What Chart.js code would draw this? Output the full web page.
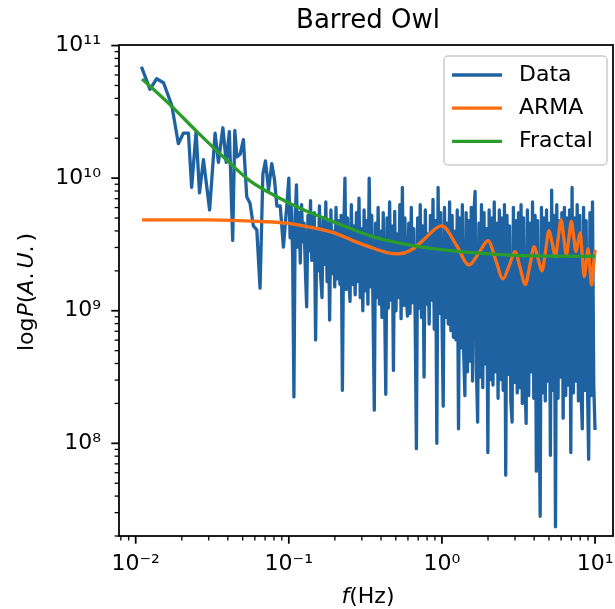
<!DOCTYPE html>
<html>
<head>
<meta charset="utf-8">
<script src="https://cdn.jsdelivr.net/npm/chart.js@4.4.0/dist/chart.umd.min.js"></script>
<style>
  html, body { margin: 0; padding: 0; background: #fff; overflow: hidden; }
  canvas { display: block; }
</style>
</head>
<body>
<canvas id="owlChart" width="615" height="609"></canvas>
<script>
// ------------------ Data ------------------
const seriesNames = ["Data", "ARMA", "Fractal"];
const seriesColors = ["#1f62a2", "#ff6d12", "#2a9c2a"];

// low frequency part of the spectrum: Hz, and log10 of the power
const dataFreqLow = [0.0109, 0.0124, 0.0137, 0.0152, 0.0172, 0.0190, 0.0205, 0.0221, 0.0232, 0.0248,
  0.0261, 0.0277, 0.0304, 0.0330, 0.0347, 0.0371, 0.0390, 0.0409, 0.0430, 0.0444,
  0.0458, 0.0481, 0.0505, 0.0531, 0.0558, 0.0587, 0.0618, 0.0649, 0.0677, 0.0704,
  0.0737, 0.0774, 0.0806, 0.0836, 0.0879, 0.0922, 0.0970];
const dataLogPowerLow = [10.84, 10.67, 10.75, 10.72, 10.55, 10.26, 10.34, 10.34, 9.93, 10.35,
  9.89, 10.14, 9.76, 10.34, 10.12, 10.38, 10.12, 10.35, 9.53, 10.36,
  10.16, 10.18, 10.29, 9.86, 9.81, 9.64, 9.61, 9.17, 10.03, 10.13,
  9.91, 10.11, 9.99, 9.79, 9.79, 9.48, 9.79];

// dense part, 0.1 Hz to 10 Hz, points evenly spread on the log axis
const denseFreqRange = [0.1, 10];
const dataLogPowerDense = [
  10.0, 9.55, 9.78, 9.42, 8.35, 9.70, 9.95, 9.48, 9.74, 9.36, 9.80, 9.52, 9.66, 9.30, 9.03, 9.72, 9.45, 9.83, 9.38, 9.60,
  9.74, 8.78, 9.62, 9.30, 9.79, 9.25, 9.10, 9.70, 9.35, 9.82, 9.22, 9.66, 8.93, 9.76, 9.28, 9.60, 9.18, 9.78, 9.24, 9.68,
  9.20, 9.72, 8.40, 9.58, 10.0, 9.16, 9.70, 9.25, 9.07, 9.80, 9.20, 9.64, 9.12, 9.74, 9.22, 9.85, 9.10, 9.62, 9.00, 9.76,
  9.15, 9.68, 9.05, 10.0, 9.18, 9.72, 9.02, 8.25, 9.66, 9.10, 9.78, 9.05, 9.60, 8.95, 9.74, 9.12, 8.37, 9.70, 9.02, 9.82,
  9.08, 9.64, 8.55, 9.75, 9.00, 9.58, 9.10, 9.80, 8.94, 9.93, 9.04, 9.70, 9.12, 8.96, 9.66, 8.98, 9.78, 9.06, 9.62, 8.95,
  7.96, 9.70, 9.02, 9.80, 8.95, 9.64, 8.50, 9.76, 9.05, 9.58, 8.90, 9.72, 9.08, 9.84, 8.86, 9.68, 8.00, 9.93, 8.98, 9.74,
  9.00, 8.28, 9.78, 8.95, 9.66, 8.90, 9.82, 8.85, 9.72, 8.80, 9.60, 8.78, 9.76, 8.11, 9.70, 8.72, 9.80, 8.70, 8.36, 9.74,
  8.54, 9.68, 8.62, 9.78, 8.47, 9.72, 9.90, 8.57, 8.16, 9.66, 8.50, 9.80, 8.42, 9.74, 8.60, 9.62, 7.93, 9.76, 8.48, 9.70,
  8.44, 9.82, 8.54, 9.66, 8.34, 9.76, 8.48, 9.70, 8.40, 9.80, 7.76, 9.72, 8.52, 9.64, 8.32, 8.16, 9.78, 8.46, 9.68, 8.38,
  9.74, 8.42, 9.80, 8.30, 9.70, 8.50, 8.15, 9.76, 8.36, 9.66, 8.54, 9.82, 8.34, 9.72, 7.79, 9.68, 8.44, 7.45, 9.78, 8.38,
  9.70, 8.32, 9.76, 8.47, 9.66, 7.91, 9.91, 8.40, 9.72, 7.37, 9.80, 8.34, 9.68, 8.50, 9.74, 8.19, 9.78, 8.36, 9.70, 8.44,
  9.76, 7.93, 9.93, 8.38, 9.70, 8.47, 9.80, 8.32, 9.72, 8.42, 8.11, 9.78, 8.40, 9.68, 8.48, 7.88, 9.74, 8.36, 9.82, 8.44, 8.10
];

const armaFreq = [0.011, 0.03, 0.065, 0.1, 0.124, 0.16, 0.206, 0.264, 0.34, 0.437, 0.52, 0.621, 0.759, 0.927,
  1.0, 1.25, 1.5, 1.75, 2.0, 2.25, 2.5, 2.75, 3.0, 3.25, 3.5, 3.75, 4.0, 4.25, 4.5, 4.75, 5.0, 5.25, 5.5, 5.75,
  6.0, 6.25, 6.5, 6.75, 7.0, 7.25, 7.5, 7.75, 8.0, 8.25, 8.5, 8.75, 9.0, 9.25, 9.5, 9.75, 10.0];
const armaLogPower = [9.686, 9.685, 9.673, 9.659, 9.64, 9.615, 9.58, 9.527, 9.48, 9.439, 9.429, 9.454, 9.535, 9.627,
  9.64, 9.49, 9.346, 9.44, 9.529, 9.38, 9.24, 9.34, 9.446, 9.32, 9.197, 9.34, 9.484, 9.39, 9.30, 9.45, 9.605, 9.51, 9.409, 9.55,
  9.686, 9.55, 9.42, 9.55, 9.673, 9.56, 9.446, 9.52, 9.587, 9.42, 9.258, 9.36, 9.467, 9.33, 9.195, 9.33, 9.459];

const fractalFreq = [0.011, 0.0168, 0.0251, 0.0374, 0.0558, 0.0835, 0.1246, 0.206, 0.34, 0.561, 1.024, 2.79, 10.0];
const fractalLogPower = [10.747, 10.553, 10.351, 10.16, 9.98, 9.86, 9.761, 9.661, 9.565, 9.505, 9.459, 9.42, 9.41];

const xTickExps = [-2, -1, 0, 1];
const xTickLabels = ["10⁻²", "10⁻¹", "10⁰", "10¹"];
const yTickExps = [8, 9, 10, 11];
const yTickLabels = ["10⁸", "10⁹", "10¹⁰", "10¹¹"];
const xRange = [0.00778, 13.1];
const yRange = [2.0e7, 1.01e11];

// ------------------ Build points ------------------
function toPoints(freqs, logs) {
  return freqs.map((f, i) => ({ x: f, y: Math.pow(10, logs[i]) }));
}

const nDense = dataLogPowerDense.length;
const lgA = Math.log10(denseFreqRange[0]), lgB = Math.log10(denseFreqRange[1]);
const dataFreqDense = dataLogPowerDense.map((_, i) => Math.pow(10, lgA + (lgB - lgA) * i / (nDense - 1)));

const dataPoints = toPoints(dataFreqLow, dataLogPowerLow).concat(toPoints(dataFreqDense, dataLogPowerDense));
const armaPoints = toPoints(armaFreq, armaLogPower);
const fractalPoints = toPoints(fractalFreq, fractalLogPower);

// ------------------ Helpers ------------------
const FONT = "'DejaVu Sans', sans-serif";

function isDecade(v) {
  const lg = Math.log10(v);
  return Math.abs(lg - Math.round(lg)) < 1e-6;
}

function logTickList(min, max) {
  const out = [];
  for (let e = Math.floor(Math.log10(min)); e <= Math.ceil(Math.log10(max)); e++) {
    for (let s = 1; s <= 9; s++) {
      const v = s * Math.pow(10, e);
      if (v >= min * 0.9999 && v <= max * 1.0001) out.push({ value: v });
    }
  }
  return out;
}

function decadeLabel(exps, labels) {
  return (value) => {
    if (!isDecade(value)) return "";
    const k = exps.indexOf(Math.round(Math.log10(value)));
    return k >= 0 ? labels[k] : "";
  };
}

function drawRichText(ctx, parts, cx, cy, size) {
  let total = 0;
  parts.forEach(p => {
    ctx.font = (p.italic ? "italic " : "") + size + "px " + FONT;
    p.w = ctx.measureText(p.text).width + (p.gap || 0);
    total += p.w;
  });
  let x = cx - total / 2;
  ctx.textAlign = "left";
  ctx.textBaseline = "middle";
  parts.forEach(p => {
    ctx.font = (p.italic ? "italic " : "") + size + "px " + FONT;
    ctx.fillText(p.text, x, cy);
    x += p.w;
  });
}

// frame, tick marks, title, axis titles and legend, drawn the matplotlib way
const decorPlugin = {
  id: "owlDecor",
  afterDraw(chart) {
    const ctx = chart.ctx;
    const area = chart.chartArea;
    const xs = chart.scales.x, ys = chart.scales.y;
    ctx.save();
    ctx.strokeStyle = "#000";
    ctx.fillStyle = "#000";

    // tick marks
    xs.ticks.forEach(t => {
      const major = isDecade(t.value);
      const p = xs.getPixelForValue(t.value);
      ctx.lineWidth = major ? 1.76 : 1.3;
      ctx.beginPath();
      ctx.moveTo(p, area.bottom);
      ctx.lineTo(p, area.bottom + (major ? 7.7 : 4.4));
      ctx.stroke();
    });
    ys.ticks.forEach(t => {
      const major = isDecade(t.value);
      const p = ys.getPixelForValue(t.value);
      ctx.lineWidth = major ? 1.76 : 1.3;
      ctx.beginPath();
      ctx.moveTo(area.left, p);
      ctx.lineTo(area.left - (major ? 7.7 : 4.4), p);
      ctx.stroke();
    });

    // frame
    ctx.lineWidth = 1.76;
    ctx.strokeRect(area.left, area.top, area.right - area.left, area.bottom - area.top);

    // title
    ctx.font = "26px " + FONT;
    ctx.textAlign = "center";
    ctx.textBaseline = "middle";
    ctx.fillText("Barred Owl", (area.left + area.right) / 2 + 2, 21);

    // axis titles
    drawRichText(ctx, [
      { text: "f", italic: true },
      { text: "(Hz)" }
    ], (area.left + area.right) / 2 + 2, 597, 22);

    ctx.save();
    ctx.translate(27, (area.top + area.bottom) / 2 + 1.5);
    ctx.rotate(-Math.PI / 2);
    drawRichText(ctx, [
      { text: "log", gap: 1 },
      { text: "P", italic: true },
      { text: "(" },
      { text: "A", italic: true },
      { text: ".", gap: 4 },
      { text: "U", italic: true },
      { text: ".", gap: 4 },
      { text: ")" }
    ], 0, 0, 22);
    ctx.restore();

    // legend
    const bx = area.right - 169, by = area.top + 11, bw = 163, bh = 109;
    ctx.beginPath();
    ctx.roundRect(bx, by, bw, bh, 4);
    ctx.fillStyle = "rgba(255,255,255,0.8)";
    ctx.fill();
    ctx.strokeStyle = "#cccccc";
    ctx.lineWidth = 1.5;
    ctx.stroke();
    ctx.font = "22px " + FONT;
    ctx.textAlign = "left";
    ctx.textBaseline = "middle";
    seriesNames.forEach((name, i) => {
      const ly = by + 19 + i * 33.2;
      ctx.strokeStyle = seriesColors[i];
      ctx.lineWidth = 3.3;
      ctx.beginPath();
      ctx.moveTo(bx + 8, ly);
      ctx.lineTo(bx + 58, ly);
      ctx.stroke();
      ctx.fillStyle = "#000";
      ctx.fillText(name, bx + 75, ly);
    });
    ctx.restore();
  }
};

// ------------------ Chart ------------------
Chart.defaults.font.family = FONT;
Chart.defaults.color = "#000";

const lineStyle = { pointRadius: 0, borderWidth: 3.3, borderJoinStyle: "round", fill: false };

new Chart(document.getElementById("owlChart"), {
  type: "line",
  data: {
    datasets: [
      Object.assign({ label: seriesNames[0], data: dataPoints, borderColor: seriesColors[0], tension: 0, order: 3 }, lineStyle),
      Object.assign({ label: seriesNames[1], data: armaPoints, borderColor: seriesColors[1], cubicInterpolationMode: "monotone", order: 2 }, lineStyle),
      Object.assign({ label: seriesNames[2], data: fractalPoints, borderColor: seriesColors[2], cubicInterpolationMode: "monotone", order: 1 }, lineStyle)
    ]
  },
  options: {
    responsive: false,
    animation: false,
    devicePixelRatio: 1,
    layout: { padding: { top: 45, right: 2, left: 0, bottom: 0 } },
    plugins: {
      legend: { display: false },
      title: { display: false },
      tooltip: { enabled: false }
    },
    scales: {
      x: {
        type: "logarithmic",
        position: "bottom",
        min: xRange[0],
        max: xRange[1],
        grid: { display: false, drawTicks: false },
        border: { display: false },
        afterBuildTicks: (scale) => { scale.ticks = logTickList(xRange[0], xRange[1]); },
        afterFit: (scale) => {
          scale.height = 73;
          scale.paddingLeft = 0;
          scale.paddingRight = 0;
        },
        ticks: {
          autoSkip: false, maxRotation: 0, minRotation: 0, padding: 15,
          font: { size: 22 }, color: "#000",
          callback: decadeLabel(xTickExps, xTickLabels)
        }
      },
      y: {
        type: "logarithmic",
        position: "left",
        min: yRange[0],
        max: yRange[1],
        grid: { display: false, drawTicks: false },
        border: { display: false },
        afterBuildTicks: (scale) => { scale.ticks = logTickList(yRange[0], yRange[1]); },
        afterFit: (scale) => {
          scale.width = 119;
          scale.paddingTop = 0;
          scale.paddingBottom = 0;
        },
        ticks: {
          autoSkip: false, padding: 18,
          font: { size: 22 }, color: "#000",
          callback: decadeLabel(yTickExps, yTickLabels)
        }
      }
    }
  },
  plugins: [decorPlugin]
});
</script>
</body>
</html>
